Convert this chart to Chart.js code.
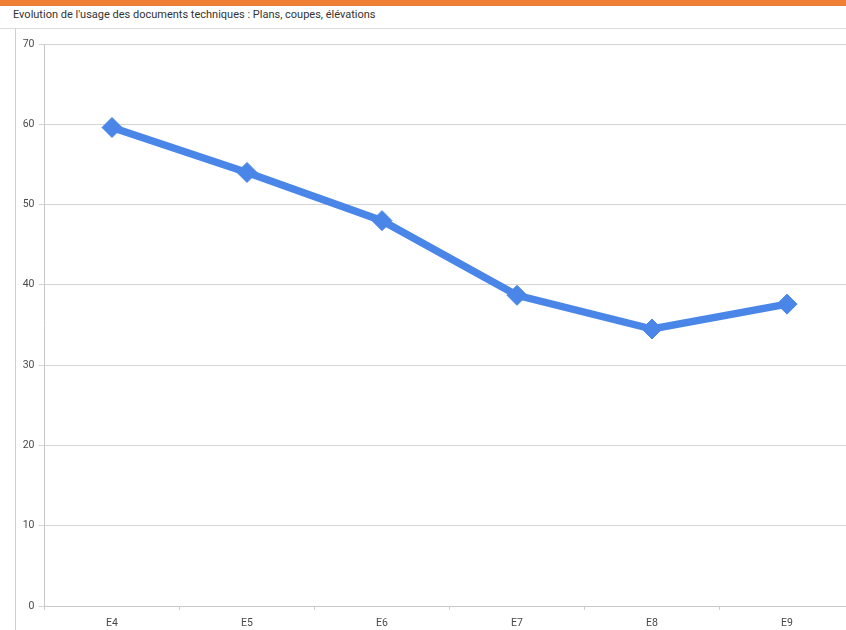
<!DOCTYPE html>
<html>
<head>
<meta charset="utf-8">
<script src="https://cdn.jsdelivr.net/npm/chart.js@4.4.0/dist/chart.umd.min.js"></script>
<style>
  html, body { margin: 0; padding: 0; width: 846px; height: 630px; overflow: hidden; background: #fff; position: relative; }
  #topbar { position: absolute; left: 0; top: 0; width: 846px; height: 6px; background: #ee7f35; }
  #title { position: absolute; left: 13px; top: 8px; font-family: Roboto, sans-serif; font-size: 11px; color: #333; white-space: nowrap; }
  #sep { position: absolute; left: 0; top: 28px; width: 846px; height: 1px; background: #dcdcdc; }
  #vline { position: absolute; left: 15px; top: 28px; width: 1px; height: 602px; background: #d0d0d0; }
  #wrap { position: absolute; left: 16px; top: 29px; width: 850px; height: 601px; }
</style>
</head>
<body>
<div id="topbar"></div>
<div id="title">Evolution de l'usage des documents techniques : Plans, coupes, élévations</div>
<div id="sep"></div>
<div id="vline"></div>
<div id="wrap"><canvas id="chart" width="850" height="601"></canvas></div>
<script>
const categories = ["E4", "E5", "E6", "E7", "E8", "E9"];
const values = [59.6, 54, 48, 38.7, 34.5, 37.6];
const yTicks = [0, 10, 20, 30, 40, 50, 60, 70];

const ctx = document.getElementById("chart");

new Chart(ctx, {
  type: "line",
  data: {
    labels: categories,
    datasets: [
      {
        data: values,
        borderColor: "#4a86e8",
        backgroundColor: "#4a86e8",
        borderWidth: 7.5,
        fill: false,
        tension: 0,
        pointStyle: "rectRot",
        pointRadius: 10,
        pointBorderWidth: 1,
        pointBackgroundColor: "#4a86e8",
        pointBorderColor: "#4a86e8",
      },
    ],
  },
  options: {
    responsive: false,
    animation: false,
    layout: { padding: { top: 15, right: 11.5, left: 0, bottom: 0 } },
    plugins: {
      legend: { display: false },
      tooltip: { enabled: false },
    },
    scales: {
      x: {
        offset: true,
        grid: { offset: true, drawOnChartArea: false, tickLength: 4, color: "#d0d0d0" },
        border: { color: "#c8c8c8" },
        ticks: { color: "#4a4a4a", font: { family: "Roboto", size: 10.5 }, padding: 7 },
        afterFit: function (scale) { scale.height = 24; },
      },
      y: {
        min: 0,
        max: 70,
        afterBuildTicks: function (scale) {
          scale.ticks = yTicks.map((v) => ({ value: v }));
        },
        grid: { color: "#d4d4d4", tickLength: 6 },
        border: { color: "#c8c8c8" },
        ticks: { color: "#4a4a4a", font: { family: "Roboto", size: 10.5 }, padding: 4 },
        afterFit: function (scale) { scale.width = 28.5; },
      },
    },
  },
});
</script>
</body>
</html>
